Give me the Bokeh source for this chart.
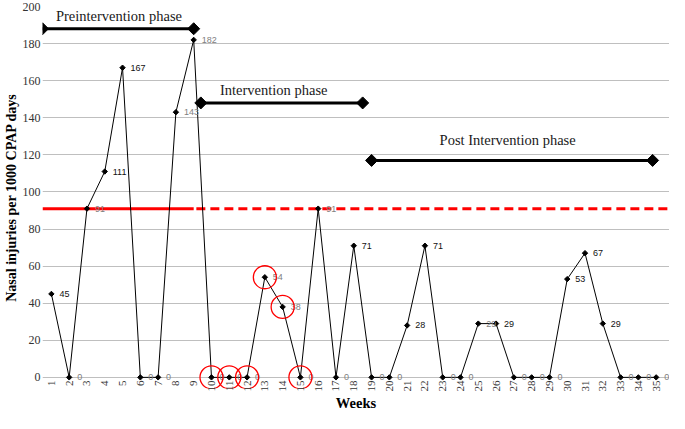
import math
from bokeh.plotting import figure
from bokeh.models import Range1d, FixedTicker, ColumnDataSource
from bokeh.core.properties import value
from bokeh.embed import file_html
from bokeh.resources import INLINE

# ---- data ----
weeks = list(range(1, 36))
injuries = [45, 0, 91, 111, 167, 0, 0, 143, 182, 0, 0, 0, 54, 38, 0, 91, 0, 71,
            0, 0, 28, 71, 0, 0, 29, 29, 0, 0, 0, 53, 67, 29, 0, 0, 0]
grey_label_weeks = [2, 3, 6, 7, 8, 9, 10, 11, 12, 13, 14, 15, 16, 17, 19, 20,
                    23, 24, 25, 27, 28, 29, 33, 34, 35]
circled_weeks = [10, 11, 12, 13, 14, 15]

baseline_mean = 91
pre_phase_end = 9

phase_names = ["Preintervention phase", "Intervention phase", "Post Intervention phase"]
phase_start = [0.5, 9.4, 19.0]
phase_end = [9.0, 18.5, 34.8]
phase_level = [188, 148, 117]
phase_label_x = [4.8, 13.5, 26.65]
phase_label_y = [195, 155, 128]

y_ticks = list(range(0, 201, 20))

# ---- figure ----
p = figure(width=669, height=413, x_range=Range1d(0.5, 35.75), y_range=Range1d(-6, 200),
           output_backend="svg", toolbar_location=None,
           min_border_top=6, min_border_right=0, min_border_left=0, min_border_bottom=0)
p.outline_line_color = None
p.background_fill_color = "white"
p.border_fill_color = "white"

p.xgrid.grid_line_color = None
p.ygrid.ticker = FixedTicker(ticks=y_ticks)
p.ygrid.grid_line_color = "#bfbfbf"
p.ygrid.grid_line_width = 1

p.yaxis.ticker = FixedTicker(ticks=y_ticks)
p.yaxis.axis_line_color = None
p.yaxis.major_tick_line_color = None
p.yaxis.minor_tick_line_color = None
p.yaxis.major_tick_out = 0
p.yaxis.major_tick_in = 0
p.yaxis.major_label_text_font = "Liberation Serif"
p.yaxis.major_label_text_font_size = "12px"
p.yaxis.major_label_text_color = "#333333"
p.yaxis.major_label_standoff = 2
p.yaxis.axis_label = "Nasal injuries per 1000 CPAP days"
p.yaxis.axis_label_text_font = "Liberation Serif"
p.yaxis.axis_label_text_font_style = "bold"
p.yaxis.axis_label_text_font_size = "14px"
p.yaxis.axis_label_text_color = "black"
p.yaxis.axis_label_standoff = 1

p.xaxis.ticker = FixedTicker(ticks=weeks)
p.xaxis.axis_line_color = None
p.xaxis.major_tick_line_color = None
p.xaxis.minor_tick_line_color = None
p.xaxis.major_tick_out = 0
p.xaxis.major_tick_in = 0
p.xaxis.major_label_orientation = math.pi / 2
p.xaxis.major_label_text_font = "Liberation Serif"
p.xaxis.major_label_text_font_size = "11px"
p.xaxis.major_label_text_color = "#333333"
p.xaxis.major_label_standoff = -8
p.xaxis.axis_label = "Weeks"
p.xaxis.axis_label_text_font = "Liberation Serif"
p.xaxis.axis_label_text_font_style = "bold"
p.xaxis.axis_label_text_font_size = "14.5px"
p.xaxis.axis_label_text_color = "black"
p.xaxis.axis_label_standoff = 0

# mean line: solid for baseline phase, dashed afterwards
p.line([p.x_range.start, pre_phase_end], [baseline_mean, baseline_mean],
       line_color="#ff0000", line_width=3)
p.line([pre_phase_end + 0.15, p.x_range.end], [baseline_mean, baseline_mean],
       line_color="#ff0000", line_width=3, line_dash="9 5")

# phase bars
p.segment(x0=phase_start, y0=phase_level, x1=phase_end, y1=phase_level,
          line_color="black", line_width=3)
p.scatter(x=phase_start + phase_end, y=phase_level + phase_level, marker="square",
          angle=math.pi / 4, size=8.5, color="black")
p.text(x=phase_label_x, y=phase_label_y, text=phase_names, text_align="center",
       text_baseline="middle", text_font=value("Liberation Serif"),
       text_font_size="14.5px", text_color="#1a1a1a")

# series
p.line(weeks, injuries, line_color="black", line_width=1)
p.scatter(weeks, injuries, marker="square", angle=math.pi / 4, size=3.8, color="black")

label_colors = ["#808080" if w in grey_label_weeks else "#111111" for w in weeks]
src = ColumnDataSource(dict(x=weeks, y=injuries, t=[str(v) for v in injuries], c=label_colors))
p.text(x="x", y="y", text="t", source=src, x_offset=8, text_baseline="middle",
       text_align="left", text_font=value("Liberation Sans"), text_font_size="9px",
       text_color="c")

# highlight circles
cy = [injuries[weeks.index(w)] for w in circled_weeks]
p.scatter(x=circled_weeks, y=cy, marker="circle", size=23, fill_color=None,
          line_color="#ff0000", line_width=1.3)

open("out.html", "w").write(file_html(p, INLINE))
